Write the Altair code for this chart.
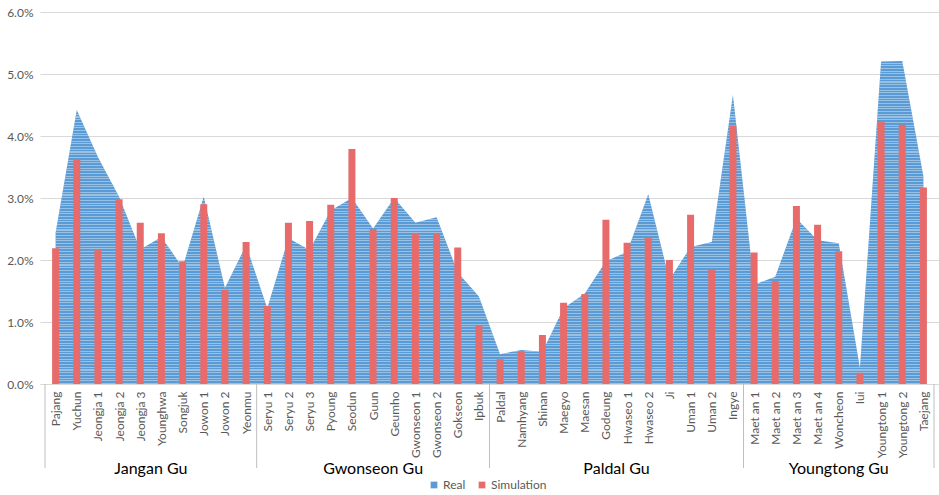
import json
import altair as alt
import pandas as pd

# ---------------- data ----------------
categories = [
    "Pajang", "Yuchun", "Jeongja 1", "Jeongja 2", "Jeongja 3", "Younghwa", "Songjuk", "Jowon 1", "Jowon 2", "Yeonmu",
    "Seryu 1", "Seryu 2", "Seryu 3", "Pyoung", "Seodun", "Guun", "Geumho", "Gwonseon 1", "Gwonseon 2", "Gokseon", "Ipbuk",
    "Paldal", "Namhyang", "Shinan", "Maegyo", "Maesan", "Godeung", "Hwaseo 1", "Hwaseo 2", "Ji", "Uman 1", "Uman 2", "Ingye",
    "Maet an 1", "Maet an 2", "Maet an 3", "Maet an 4", "Woncheon", "Iui", "Youngtong 1", "Youngtong 2", "Taejang",
]
groups = ["Jangan Gu", "Gwonseon Gu", "Paldal Gu", "Youngtong Gu"]
group_sizes = [10, 11, 12, 9]

real_pct = [2.44, 4.42, 3.66, 3.02, 2.17, 2.37, 1.88, 3.02, 1.55, 2.24,
            1.22, 2.35, 2.16, 2.80, 3.00, 2.51, 3.00, 2.60, 2.69, 1.80, 1.41,
            0.48, 0.55, 0.52, 1.22, 1.46, 1.98, 2.13, 3.06, 1.68, 2.21, 2.29, 4.66,
            1.60, 1.73, 2.67, 2.32, 2.27, 0.26, 5.20, 5.21, 3.35]
sim_pct = [2.19, 3.63, 2.17, 2.98, 2.60, 2.43, 1.98, 2.90, 1.52, 2.29,
           1.26, 2.60, 2.63, 2.89, 3.79, 2.50, 3.00, 2.43, 2.43, 2.20, 0.95,
           0.40, 0.53, 0.79, 1.31, 1.45, 2.65, 2.28, 2.37, 2.00, 2.73, 1.85, 4.17,
           2.12, 1.66, 2.87, 2.57, 2.14, 0.18, 4.24, 4.18, 3.17]

n = len(categories)
df_real = pd.DataFrame({"pos": [i + 0.5 for i in range(n)],
                        "value": [v / 100 for v in real_pct], "series": "Real"})
df_sim = pd.DataFrame({"pos": [i + 0.5 for i in range(n)],
                       "value": [v / 100 for v in sim_pct], "series": "Simulation"})

bounds = [0]
for s in group_sizes:
    bounds.append(bounds[-1] + s)
df_sep = pd.DataFrame({"pos": bounds})
df_grp = pd.DataFrame({"pos": [(bounds[i] + bounds[i + 1]) / 2 for i in range(len(groups))],
                       "group": groups})

# ---------------- style ----------------
FONT = "Lato"
BLUE = "#5b9bd5"
RED = "#e86b6b"
W, H = 899, 372

label_expr = json.dumps(categories) + "[floor(datum.value)]"

x_enc = alt.X("pos:Q", title=None,
              scale=alt.Scale(domain=[0, n], nice=False, zero=False),
              axis=alt.Axis(values=[i + 0.5 for i in range(n)], labelExpr=label_expr,
                            labelAngle=-90, labelAlign="right", labelBaseline="middle",
                            labelPadding=7, ticks=False, grid=False,
                            domainColor="#d9d9d9", labelColor="#595959",
                            labelFontSize=12, labelFont=FONT, labelOverlap=False,
                            labelBound=False, labelFlush=False))
y_enc = alt.Y("value:Q", title=None,
              scale=alt.Scale(domain=[0, 0.06], nice=False),
              axis=alt.Axis(format=".1%", values=[0, 0.01, 0.02, 0.03, 0.04, 0.05, 0.06],
                            domain=False, ticks=False, gridColor="#d9d9d9",
                            labelColor="#595959", labelFontSize=12, labelFont=FONT,
                            labelPadding=7))

color_enc = alt.Color("series:N",
                      scale=alt.Scale(domain=["Real", "Simulation"], range=[BLUE, RED]),
                      legend=alt.Legend(orient="none", legendX=388, legendY=467,
                                        direction="horizontal", title=None,
                                        symbolType="square", symbolSize=45,
                                        symbolStrokeWidth=0,
                                        labelFontSize=12, labelColor="#595959",
                                        labelFont=FONT, columnPadding=10,
                                        labelOffset=3))

# horizontal stripe texture for the area
N = 120
stops = []
for k in range(N):
    a, b, c = k / N, (k + 0.6) / N, (k + 1) / N
    stops += [alt.GradientStop(color="rgba(255,255,255,0)", offset=a),
              alt.GradientStop(color="rgba(255,255,255,0)", offset=b),
              alt.GradientStop(color="rgba(225,238,250,0.45)", offset=b),
              alt.GradientStop(color="rgba(225,238,250,0.45)", offset=c)]
stripe = alt.Gradient(gradient="linear", stops=stops, x1=0, x2=0, y1=0, y2=1)

area_base = alt.Chart(df_real).mark_area(opacity=1).encode(x=x_enc, y=y_enc, color=color_enc)
area_tex = alt.Chart(df_real).mark_area(fill=stripe).encode(x=x_enc, y=y_enc)
bars = alt.Chart(df_sim).mark_bar(size=7).encode(x=x_enc, y=y_enc, color=color_enc)

seps = alt.Chart(df_sep).mark_rule(color="#bfbfbf", strokeWidth=1).encode(
    x=x_enc, y=alt.value(H), y2=alt.value(H + 84))
glabels = alt.Chart(df_grp).mark_text(font=FONT, fontSize=16, color="#000000",
                                      baseline="middle").encode(
    x=x_enc, y=alt.value(H + 85), text="group:N")

chart = alt.layer(area_base, area_tex, bars, seps, glabels).properties(
    width=W, height=H,
    autosize=alt.AutoSizeParams(type="none"),
    padding={"left": 40, "top": 12, "right": 0, "bottom": 111},
).configure_view(stroke=None)

chart.save("out.html", embed_options={"renderer": "svg", "actions": False})
